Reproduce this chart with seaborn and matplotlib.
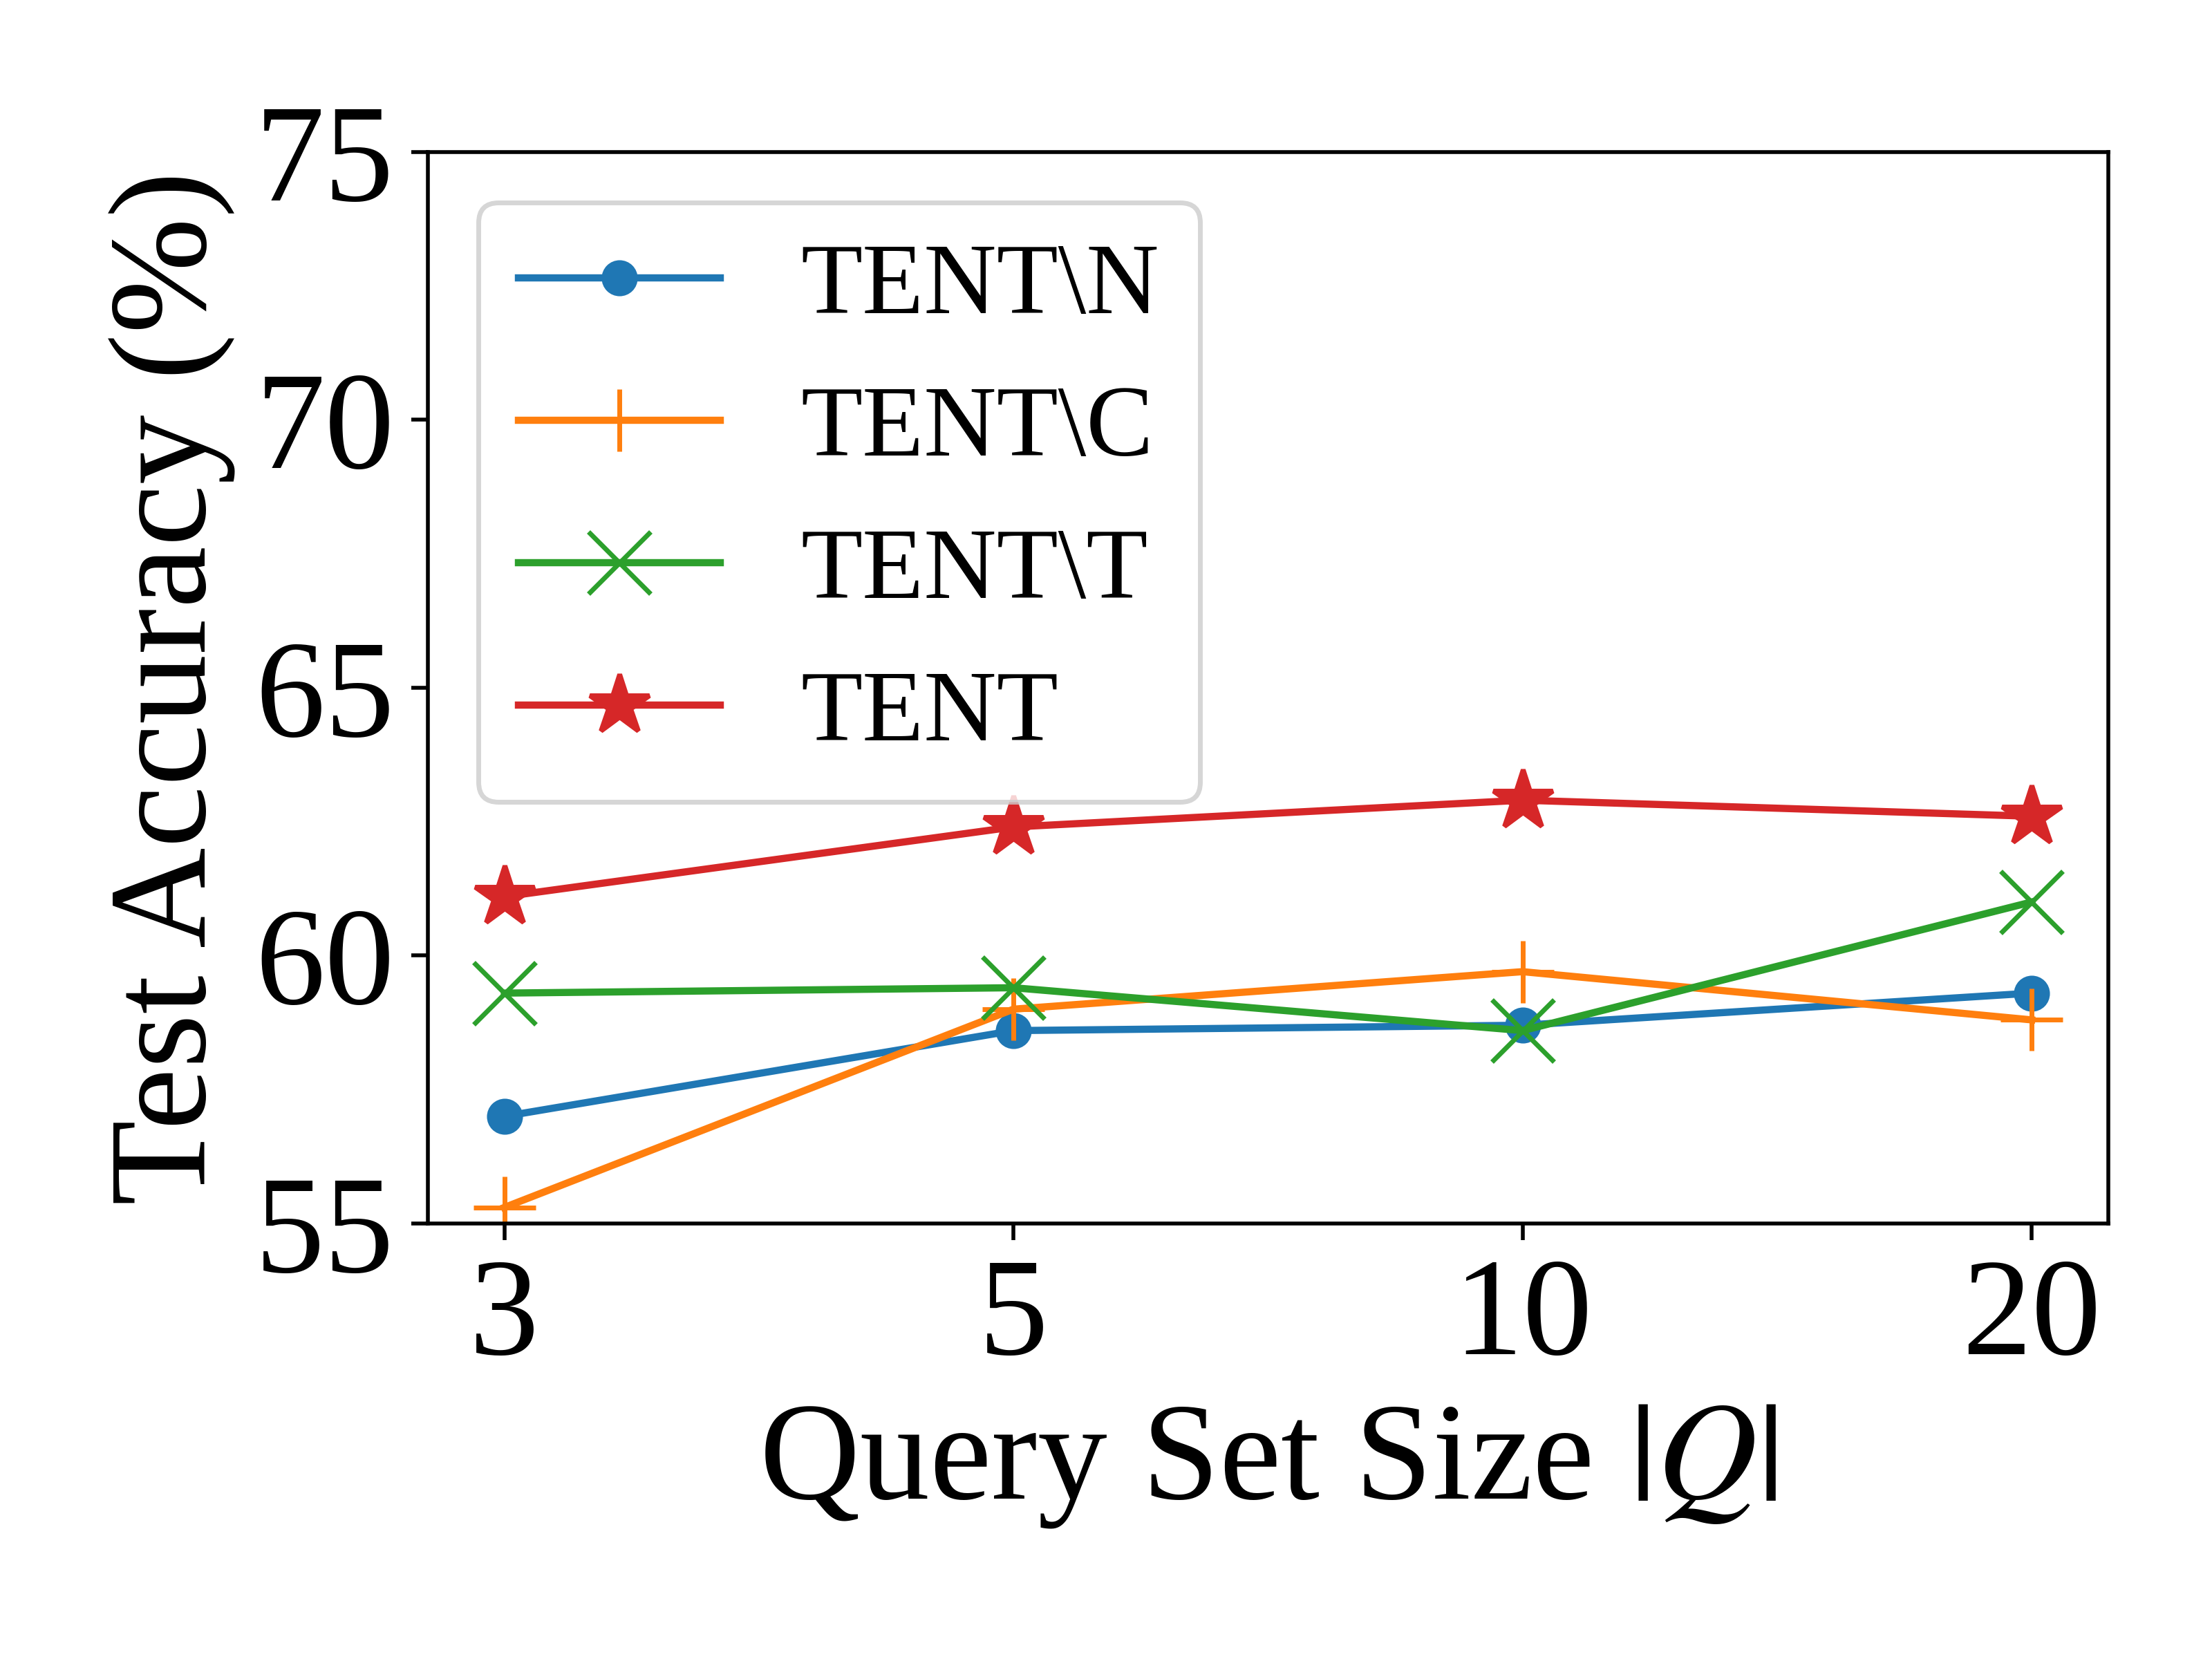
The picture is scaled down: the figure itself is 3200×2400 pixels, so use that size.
import matplotlib
matplotlib.use("Agg")
import matplotlib.pyplot as plt
import seaborn as sns
import pandas as pd

query_sizes = ["3", "5", "10", "20"]
tent_n = [57.0, 58.6, 58.7, 59.3]
tent_c = [55.3, 59.0, 59.7, 58.8]
tent_t = [59.3, 59.4, 58.6, 61.0]
tent = [61.1, 62.4, 62.9, 62.6]
series_names = ["TENT\\N", "TENT\\C", "TENT\\T", "TENT"]
yticks = [55, 60, 65, 70, 75]

plt.rcParams["font.family"] = ["Liberation Serif", "DejaVu Serif"]
plt.rcParams["mathtext.fontset"] = "stix"

colors = ["#1f77b4", "#ff7f0e", "#2ca02c", "#d62728"]
markers = ["o", "+", "x", "*"]
msizes = [6.5, 13, 13, 13]

fig, ax = plt.subplots(figsize=(6.4, 4.8), dpi=500)
fig.subplots_adjust(left=0.1935, right=0.953, top=0.9085, bottom=0.2625)

for name, vals, c, m, ms in zip(series_names, [tent_n, tent_c, tent_t, tent],
                                colors, markers, msizes):
    df = pd.DataFrame({"x": query_sizes, "y": vals})
    sns.lineplot(data=df, x="x", y="y", ax=ax, color=c, marker=m, markersize=ms,
                 markeredgecolor=c, markeredgewidth=1.0, linewidth=1.5,
                 label=name, sort=False)

ax.set_ylim(55, 75)
ax.set_yticks(yticks)
ax.set_yticklabels([str(v) for v in yticks])
ax.tick_params(axis="both", labelsize=29)
ax.set_xlabel("Query Set Size $|Q|$", fontsize=29)
ax.set_ylabel("Test Accuracy (%)", fontsize=29)
ax.legend(loc="upper left", fontsize=21)

fig.savefig("out.png", dpi=500)
